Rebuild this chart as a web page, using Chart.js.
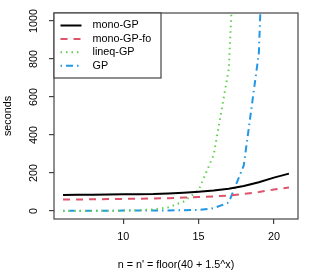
<!DOCTYPE html>
<html>
<head>
<meta charset="utf-8">
<script src="https://cdn.jsdelivr.net/npm/chart.js@4/dist/chart.umd.min.js"></script>
<style>
html,body{margin:0;padding:0;background:#fff;}
#wrap{width:312px;height:272px;position:relative;}
</style>
</head>
<body>
<div id="wrap"><canvas id="c" width="312" height="272"></canvas></div>
<script>
// ---- data ----
const xValues = [6, 7, 8, 9, 10, 11, 12, 13, 14, 15, 16, 17, 18, 19, 20, 21];
const monoGP   = [85, 86, 86, 87, 88, 89, 90, 93, 97, 102, 108, 117, 132, 152, 176, 197];
const monoGPfo = [61, 61, 62, 63, 64, 65, 66, 68, 71, 74, 77, 82, 90, 100, 113, 124];
const lineqGP  = [0.5, 0.8, 1, 1.5, 2.5, 4, 9, 20, 50, 110, 295, 745, 2400, null, null, null];
const plainGP  = [2, 2, 2, 2, 2.5, 3, 3, 3.5, 4, 6, 15, 45, 240, 830, 3000, null];
const seriesLabels = ['mono-GP', 'mono-GP-fo', 'lineq-GP', 'GP'];
const xTicks = [10, 15, 20];
const yTicks = [0, 200, 400, 600, 800, 1000];
const xTitle = "n = n' = floor(40 + 1.5^x)";
const yTitle = 'seconds';

const FONT = 'Liberation Sans, Arial, Helvetica, sans-serif';
const FS = 10.8;
const colors = ['#000000', '#DF536B', '#61D04F', '#2297E6'];
const dashes = [[], [7, 6], [1.5, 4], [1.5, 4, 7, 4]];
const seriesData = [monoGP, monoGPfo, lineqGP, plainGP];

const datasets = seriesData.map((arr, i) => ({
  label: seriesLabels[i],
  data: xValues.map((x, j) => ({x: x, y: arr[j]})),
  borderColor: colors[i],
  backgroundColor: colors[i],
  borderWidth: 2,
  borderDash: dashes[i],
  pointRadius: 0,
  tension: 0,
  fill: false
}));

const boxPlugin = {
  id: 'rbox',
  afterDraw(chart) {
    const {ctx, chartArea: a} = chart;
    ctx.save();
    ctx.strokeStyle = '#444';
    ctx.lineWidth = 1.2;
    ctx.strokeRect(a.left, a.top, a.right - a.left, a.bottom - a.top);
    // legend
    const lx = a.left, ly = a.top, lw = 107, lh = 65;
    ctx.fillStyle = '#fff';
    ctx.fillRect(lx, ly, lw, lh);
    ctx.strokeRect(lx, ly, lw, lh);
    ctx.font = FS + 'px ' + FONT;
    ctx.textBaseline = 'middle';
    ctx.textAlign = 'left';
    seriesLabels.forEach((lab, i) => {
      const yy = ly + 12.5 + i * 13.4;
      ctx.beginPath();
      ctx.strokeStyle = colors[i];
      ctx.lineWidth = 2;
      ctx.setLineDash(dashes[i]);
      ctx.moveTo(lx + 6.5, yy);
      ctx.lineTo(lx + 27.5, yy);
      ctx.stroke();
      ctx.setLineDash([]);
      ctx.fillStyle = '#000';
      ctx.fillText(lab, lx + 38.5, yy);
    });
    ctx.restore();
  }
};

new Chart(document.getElementById('c'), {
  type: 'line',
  data: {datasets: datasets},
  options: {
    responsive: false,
    animation: false,
    devicePixelRatio: 1,
    layout: {padding: {top: 13, right: 14, left: 0, bottom: 0}},
    plugins: {legend: {display: false}, tooltip: {enabled: false}},
    scales: {
      x: {
        type: 'linear',
        min: 5.4, max: 21.6,
        afterBuildTicks: (s) => { s.ticks = xTicks.map(v => ({value: v})); },
        afterFit: (s) => { s.height = 53; },
        grid: {drawOnChartArea: false, drawTicks: true, tickLength: 5, color: '#444', lineWidth: 1.2},
        border: {display: false},
        ticks: {font: {family: FONT, size: FS}, color: '#000', padding: 7, maxRotation: 0, autoSkip: false,
                callback: (v) => String(v)},
        title: {display: true, text: xTitle, font: {family: FONT, size: FS}, color: '#000', padding: {top: 0, bottom: 0.5}}
      },
      y: {
        type: 'linear',
        min: -41.7, max: 1041.7,
        afterBuildTicks: (s) => { s.ticks = yTicks.map(v => ({value: v})); },
        afterFit: (s) => { s.width = 54; },
        grid: {drawOnChartArea: false, drawTicks: true, tickLength: 5, color: '#444', lineWidth: 1.2},
        border: {display: false},
        ticks: {font: {family: FONT, size: FS}, color: '#000', padding: 2.5, minRotation: 90, maxRotation: 90, crossAlign: 'center', autoSkip: false,
                callback: (v) => String(v)},
        title: {display: true, text: yTitle, font: {family: FONT, size: FS}, color: '#000', padding: 2}
      }
    }
  },
  plugins: [boxPlugin]
});
</script>
</body>
</html>
